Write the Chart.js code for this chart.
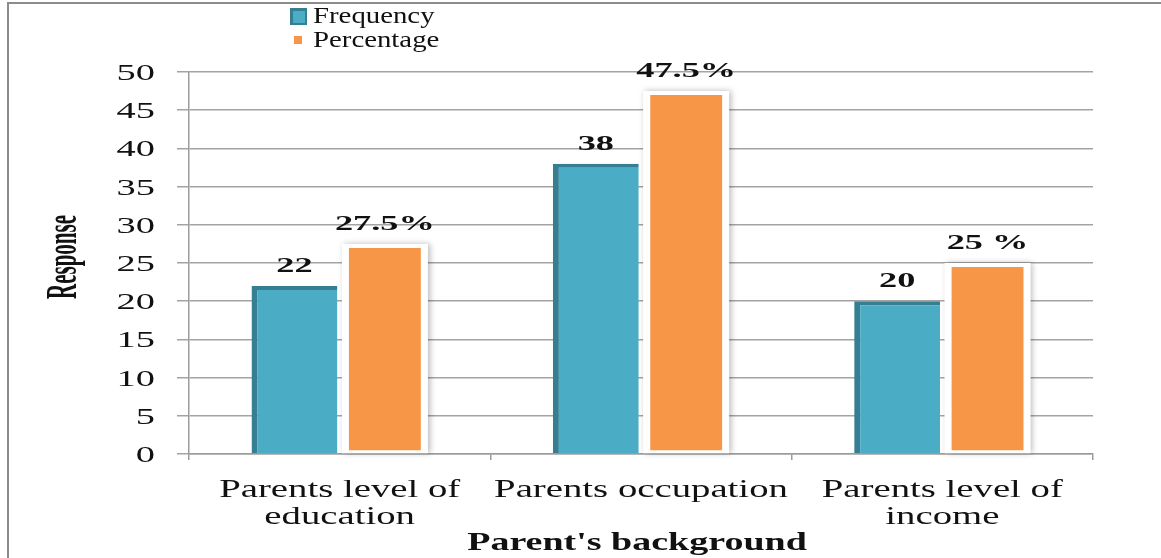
<!DOCTYPE html>
<html>
<head>
<meta charset="utf-8">
<script src="https://cdn.jsdelivr.net/npm/chart.js@4/dist/chart.umd.min.js"></script>
<style>
  body { margin: 0; background: #fff; }
  #wrap { position: relative; width: 1161px; height: 558px; overflow: hidden; }
  #frame { position: absolute; left: 7px; top: 2px; right: -10px; bottom: -10px;
           border-left: 2px solid #8c8c8c; border-top: 2px solid #8c8c8c; pointer-events: none; }
</style>
</head>
<body>
<div id="wrap">
  <canvas id="chart" width="1161" height="558"></canvas>
  <div id="frame"></div>
</div>
<script>
// ---- Daten ----
const categories = [['Parents level of', 'education'], ['Parents occupation'], ['Parents level of', 'income']];
const frequency = [22, 38, 20];
const percentage = [27.5, 47.5, 25];
const frequencyLabels = ['22', '38', '20'];
const percentageLabels = ['27.5%', '47.5%', '25 %'];
const yTitle = 'Response';
const xTitle = "Parent's background";

const BLUE = '#4bacc6';
const BLUE_DARK = '#367e92';
const ORANGE = '#f79646';
const SERIF = '"Liberation Serif", "Times New Roman", serif';

// Text is horizontally stretched in the original, so draw it scaled
function stretchText(ctx, text, x, y, sx, font, align) {
    ctx.save();
    ctx.translate(x, y);
    ctx.scale(sx, 1);
    ctx.font = font;
    ctx.textAlign = align;
    ctx.textBaseline = 'alphabetic';
    ctx.fillStyle = '#111';
    ctx.fillText(text, 0, 0);
    ctx.restore();
}

const textPlugin = {
    id: 'stretchedText',
    beforeDatasetsDraw(chart) {
        // white frame + soft shadow behind the orange bars
        const ctx = chart.ctx;
        const meta = chart.getDatasetMeta(1);
        meta.data.forEach(bar => {
            const p = bar.getProps(['x', 'y', 'base', 'width'], true);
            ctx.save();
            ctx.shadowColor = 'rgba(0,0,0,0.28)';
            ctx.shadowBlur = 6;
            ctx.shadowOffsetX = 2;
            ctx.shadowOffsetY = 0;
            ctx.fillStyle = '#fff';
            ctx.fillRect(p.x - p.width / 2, p.y, p.width, p.base - p.y);
            ctx.restore();
        });
    },
    afterDraw(chart) {
        const ctx = chart.ctx;
        const area = chart.chartArea;
        const y = chart.scales.y;
        const x = chart.scales.x;

        // y tick labels
        y.ticks.forEach(t => {
            stretchText(ctx, String(t.value), 155, y.getPixelForValue(t.value) + 8, 1.6, '24px ' + SERIF, 'right');
        });

        // category labels
        chart.data.labels.forEach((lab, i) => {
            const cx = x.getPixelForValue(i);
            lab.forEach((line, j) => {
                stretchText(ctx, line, cx, 497 + j * 27, 1.55, '25px ' + SERIF, 'center');
            });
        });

        // axis titles
        stretchText(ctx, xTitle, (area.left + area.right) / 2 - 4, 550, 1.52, 'bold 25px ' + SERIF, 'center');
        ctx.save();
        ctx.translate(76, 257);
        ctx.scale(2.1, 1);
        ctx.rotate(-Math.PI / 2);
        ctx.font = 'bold 21px ' + SERIF;
        ctx.textAlign = 'center';
        ctx.textBaseline = 'alphabetic';
        ctx.fillStyle = '#111';
        ctx.fillText(yTitle, 0, 0);
        ctx.restore();

        // value labels
        const labelSets = [frequencyLabels, percentageLabels];
        chart.data.datasets.forEach((ds, di) => {
            chart.getDatasetMeta(di).data.forEach((bar, i) => {
                const p = bar.getProps(['x', 'y'], true);
                stretchText(ctx, labelSets[di][i], p.x, p.y - 14, 1.65, 'bold 22px ' + SERIF, 'center');
            });
        });

        // legend
        const ds = chart.data.datasets;
        ctx.save();
        ctx.fillStyle = BLUE_DARK;
        ctx.fillRect(290, 8, 17, 17);
        ctx.fillStyle = ds[0].backgroundColor;
        ctx.fillRect(293, 11, 12, 12);
        ctx.fillStyle = ds[1].backgroundColor;
        ctx.fillRect(294, 36, 8, 8);
        ctx.restore();
        stretchText(ctx, ds[0].label, 313, 23, 1.2, '24px ' + SERIF, 'left');
        stretchText(ctx, ds[1].label, 313, 47, 1.2, '24px ' + SERIF, 'left');
    }
};

new Chart(document.getElementById('chart').getContext('2d'), {
    type: 'bar',
    data: {
        labels: categories,
        datasets: [
            {
                label: 'Frequency',
                data: frequency,
                backgroundColor: BLUE,
                borderColor: BLUE_DARK,
                borderWidth: { left: 6, top: 4, right: 0, bottom: 0 },
                borderSkipped: false,
                categoryPercentage: 0.6,
                barPercentage: 0.95
            },
            {
                label: 'Percentage',
                data: percentage,
                backgroundColor: ORANGE,
                borderColor: '#ffffff',
                borderWidth: { left: 7, top: 4, right: 7, bottom: 3 },
                borderSkipped: false,
                categoryPercentage: 0.6,
                barPercentage: 0.95
            }
        ]
    },
    options: {
        responsive: false,
        animation: false,
        devicePixelRatio: 1,
        layout: { padding: { left: 177, top: 72, right: 68, bottom: 98 } },
        plugins: { legend: { display: false }, tooltip: { enabled: false } },
        scales: {
            x: {
                ticks: { display: false },
                grid: { drawOnChartArea: false, tickLength: 6, color: '#9c9c9c', lineWidth: 1.5 },
                border: { color: '#9c9c9c', width: 1.5 }
            },
            y: {
                min: 0,
                max: 50,
                ticks: { display: false, stepSize: 5 },
                grid: { tickLength: 12, color: '#a3a3a3', lineWidth: 1.5 },
                border: { color: '#9c9c9c', width: 1.5 }
            }
        }
    },
    plugins: [textPlugin]
});
</script>
</body>
</html>
